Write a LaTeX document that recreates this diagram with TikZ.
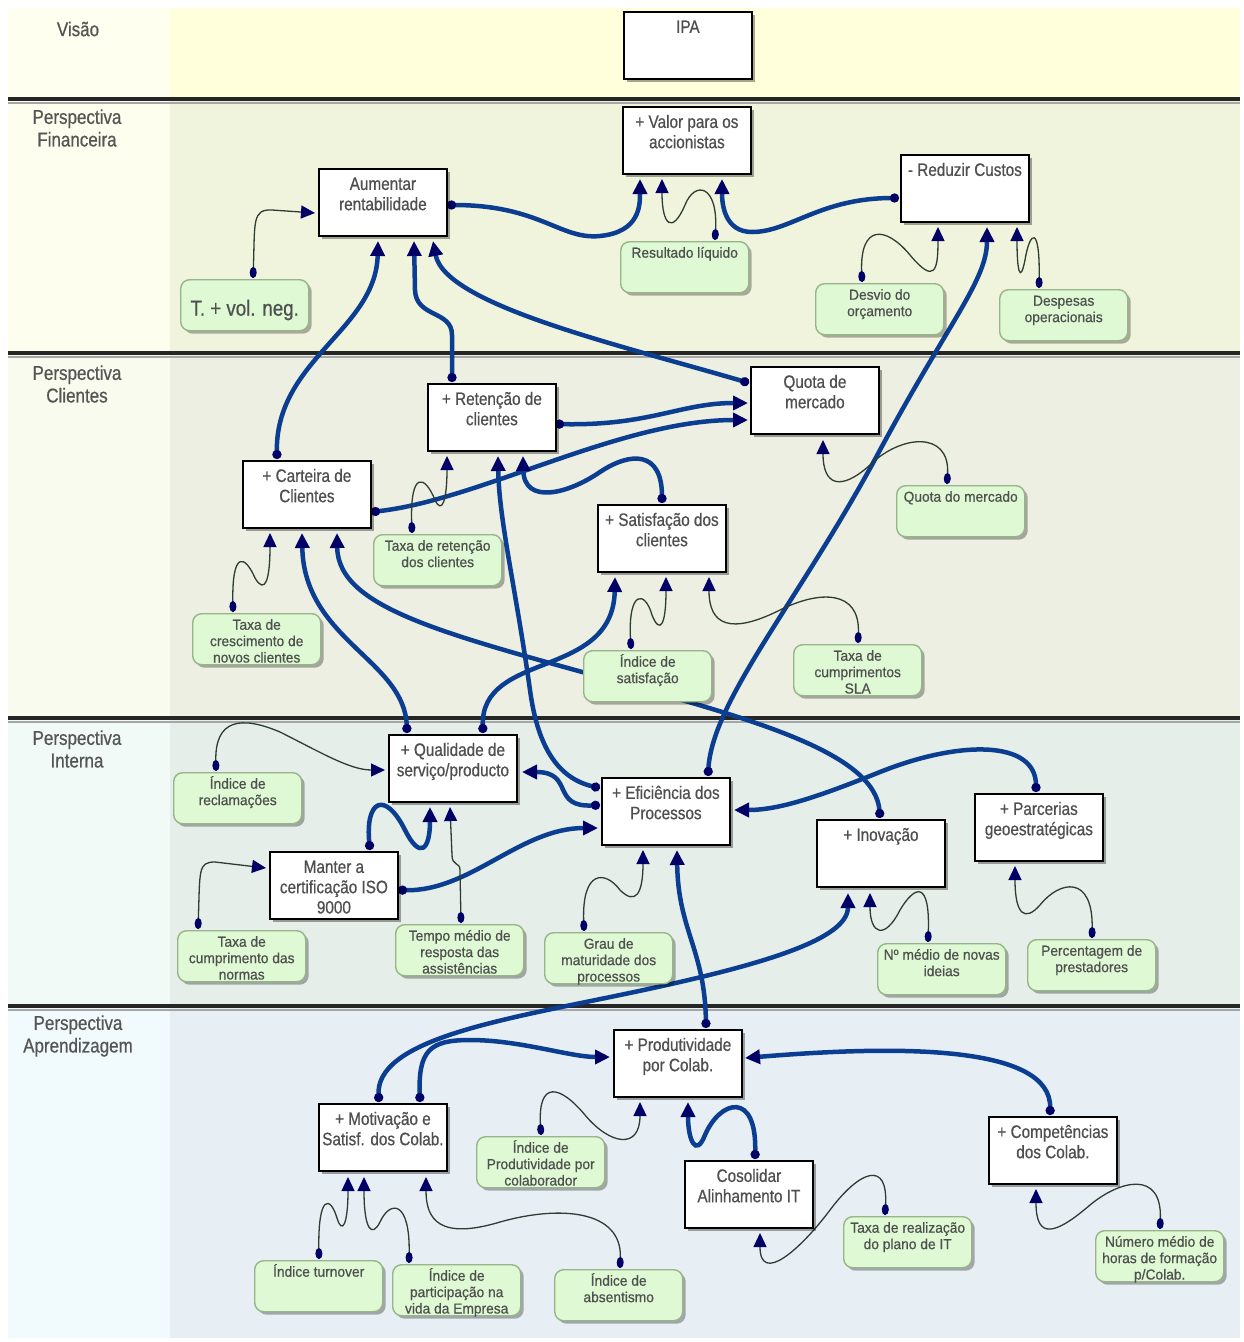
\documentclass[tikz,border=0pt]{standalone}
\usepackage{fontspec}
\setmainfont{Liberation Sans}[FakeStretch=0.85,FakeBold=0.6]
\newfontfamily\boxfont{Liberation Sans}[FakeStretch=0.85,FakeBold=0.6]
\newfontfamily\indfont{Liberation Sans}[FakeStretch=0.95,FakeBold=0.6]
\newfontfamily\labfont{Liberation Sans}[FakeStretch=0.85,FakeBold=0.6]
\usetikzlibrary{arrows.meta,calc,shadows}
\definecolor{tipNavy}{HTML}{000066}
\definecolor{lineBlue}{HTML}{0B3D91}
\definecolor{thinCol}{HTML}{2E3D33}
\definecolor{textGray}{HTML}{4F4F4F}
\definecolor{labGray}{HTML}{555555}
\definecolor{greenFill}{HTML}{DEF9D3}
\definecolor{greenBorder}{HTML}{98B48A}
\definecolor{visL}{HTML}{FFFFEF}
\definecolor{visM}{HTML}{FFFFDC}
\definecolor{finL}{HTML}{FDFEEE}
\definecolor{finM}{HTML}{F1F4DC}
\definecolor{cliL}{HTML}{F8FBEE}
\definecolor{cliM}{HTML}{ECEFE1}
\definecolor{intL}{HTML}{F1FAF6}
\definecolor{intM}{HTML}{E5EEE8}
\definecolor{aprL}{HTML}{F1FAFD}
\definecolor{aprM}{HTML}{E7EFF5}
\pgfdeclarelayer{bands}
\pgfdeclarelayer{edges}
\pgfsetlayers{bands,edges,main}
\newcommand\boxtxt[1]{\parbox[t][63pt][t]{124pt}{\centering\boxfont\fontsize{18pt}{20.3pt}\selectfont\rule{0pt}{19pt}#1\par}}
\newcommand\indtxt[1]{\parbox[t][47pt][t]{124pt}{\centering\indfont\fontsize{14.5pt}{16.4pt}\selectfont\rule{0pt}{14pt}#1\par}}
\begin{document}
\begin{tikzpicture}[x=1pt,y=-1pt,
  kbox/.style={draw=black, line width=1.8pt, fill=white, inner sep=2pt,
    minimum width=128pt, minimum height=67pt, anchor=north west, text=textGray,
    drop shadow={shadow xshift=3pt,shadow yshift=-3pt,fill=black,opacity=0.35}},
  ibox/.style={draw=greenBorder, line width=1.4pt, fill=greenFill, rounded corners=9pt,
    inner sep=2pt, minimum width=128pt, minimum height=51pt, anchor=north west, text=textGray,
    drop shadow={shadow xshift=3pt,shadow yshift=-3pt,fill=black,opacity=0.3}},
  lab/.style={text=labGray, font=\labfont\fontsize{20pt}{22.6pt}\selectfont, align=center, inner sep=0pt},
  bconn/.style={line width=4.5pt, draw=lineBlue, line cap=round,
    {Circle[length=9pt,width=9pt,color=tipNavy]}-{Triangle[length=15pt,width=14pt,color=tipNavy]}},
  tconn/.style={line width=1.3pt, draw=thinCol,
    {Ellipse[length=11pt,width=7pt,color=tipNavy]}-{Triangle[length=14pt,width=13pt,color=tipNavy]}},
  sepline/.style={line width=3.5pt, draw=black!85},
  sepshadow/.style={line width=2pt, draw=black!35}
]
\useasboundingbox (0,0) rectangle (1243,1342);
\begin{pgfonlayer}{bands}
\fill[white] (0,0) rectangle (1243,1342);
\fill[visM] (8,8) rectangle (1240,98);
\fill[visL] (8,8) rectangle (170,98);
\fill[finM] (8,101) rectangle (1240,352);
\fill[finL] (8,101) rectangle (170,352);
\fill[cliM] (8,355) rectangle (1240,717);
\fill[cliL] (8,355) rectangle (170,717);
\fill[intM] (8,720) rectangle (1240,1005);
\fill[intL] (8,720) rectangle (170,1005);
\fill[aprM] (8,1008) rectangle (1240,1338);
\fill[aprL] (8,1008) rectangle (170,1338);
\draw[sepshadow] (8,102.5) -- (1240,102.5);
\draw[sepline] (8,99) -- (1240,99);
\draw[sepshadow] (8,356.5) -- (1240,356.5);
\draw[sepline] (8,353) -- (1240,353);
\draw[sepshadow] (8,721.5) -- (1240,721.5);
\draw[sepline] (8,718) -- (1240,718);
\draw[sepshadow] (8,1009.5) -- (1240,1009.5);
\draw[sepline] (8,1006) -- (1240,1006);
\end{pgfonlayer}

% perspective labels
\node[lab] (lv) at (78,29) {Visão};
\node[lab] (lf) at (77,128) {Perspectiva\\Financeira};
\node[lab] (lc) at (77,384) {Perspectiva\\Clientes};
\node[lab] (li) at (77,749) {Perspectiva\\Interna};
\node[lab] (la) at (78,1036) {Perspectiva\\Aprendizagem};

% objective boxes
\node[kbox] (ipa) at (623,11) {\boxtxt{IPA}};
\node[kbox] (val) at (622,106) {\boxtxt{+ Valor para os\\accionistas}};
\node[kbox] (aum) at (318,168) {\boxtxt{Aumentar\\rentabilidade}};
\node[kbox] (red) at (900,154) {\boxtxt{- Reduzir Custos}};
\node[kbox] (quo) at (750,366) {\boxtxt{Quota de\\mercado}};
\node[kbox] (ret) at (427,383) {\boxtxt{+ Retenção de\\clientes}};
\node[kbox] (car) at (242,460) {\boxtxt{+ Carteira de\\Clientes}};
\node[kbox] (sat) at (597,504) {\boxtxt{+ Satisfação dos\\clientes}};
\node[kbox] (qua) at (388,734) {\boxtxt{+ Qualidade de\\serviço/producto}};
\node[kbox] (efi) at (601,777) {\boxtxt{+ Eficiência dos\\Processos}};
\node[kbox] (ino) at (816,819) {\boxtxt{+ Inovação}};
\node[kbox] (par) at (974,793) {\boxtxt{+ Parcerias\\geoestratégicas}};
\node[kbox] (man) at (269,851) {\boxtxt{Manter a\\certificação ISO\\9000}};
\node[kbox] (pro) at (613,1029) {\boxtxt{+ Produtividade\\por Colab.}};
\node[kbox] (mot) at (318,1103) {\boxtxt{+ Motivação e\\Satisf. dos Colab.}};
\node[kbox] (cos) at (684,1160) {\boxtxt{Cosolidar\\Alinhamento IT}};
\node[kbox] (com) at (988,1116) {\boxtxt{+ Competências\\dos Colab.}};

% indicator boxes
\node[ibox] (tvn) at (180,279) {\parbox[t][47pt][t]{124pt}{\centering\boxfont\fontsize{22pt}{22pt}\selectfont\rule{0pt}{34pt}T. + vol. neg.\par}};
\node[ibox] (res) at (620,241) {\indtxt{Resultado líquido}};
\node[ibox] (des) at (815,283) {\indtxt{Desvio do\\orçamento}};
\node[ibox] (dep) at (999,289) {\indtxt{Despesas\\operacionais}};
\node[ibox] (qdm) at (896,485) {\indtxt{Quota do mercado}};
\node[ibox] (txr) at (373,534) {\indtxt{Taxa de retenção\\dos clientes}};
\node[ibox] (txc) at (192,613) {\indtxt{Taxa de\\crescimento de\\novos clientes}};
\node[ibox] (ids) at (583,650) {\indtxt{Índice de\\satisfação}};
\node[ibox] (sla) at (793,644) {\indtxt{Taxa de\\cumprimentos\\SLA}};
\node[ibox] (rec) at (173,772) {\indtxt{Índice de\\reclamações}};
\node[ibox] (tcn) at (177,930) {\indtxt{Taxa de\\cumprimento das\\normas}};
\node[ibox] (tmr) at (395,924) {\indtxt{Tempo médio de\\resposta das\\assistências}};
\node[ibox] (gmp) at (544,932) {\indtxt{Grau de\\maturidade dos\\processos}};
\node[ibox] (nmi) at (877,943) {\indtxt{Nº médio de novas\\ideias}};
\node[ibox] (pdp) at (1027,939) {\indtxt{Percentagem de\\prestadores}};
\node[ibox] (ipc) at (476,1136) {\indtxt{Índice de\\Produtividade por\\colaborador}};
\node[ibox] (itu) at (254,1260) {\indtxt{Índice turnover}};
\node[ibox] (ipv) at (392,1264) {\indtxt{Índice de\\participação na\\vida da Empresa}};
\node[ibox] (iab) at (554,1269) {\indtxt{Índice de\\absentismo}};
\node[ibox] (trp) at (843,1216) {\indtxt{Taxa de realização\\do plano de IT}};
\node[ibox] (nmh) at (1095,1230) {\indtxt{Número médio de\\horas de formação\\p/Colab.}};

\begin{pgfonlayer}{edges}
% thick connectors
\draw[bconn] ($(aum.north west)+(129,37)$) .. controls (540,205) and (560,240) .. (600,236) .. controls (640,232) and (640,205) .. ($(val.north west)+(18,73)$);
\draw[bconn] ($(red.north west)+(-1,44)$) .. controls (820,198) and (790,232) .. (752,232) .. controls (725,232) and (722,205) .. ($(val.north west)+(100,73)$);
\draw[bconn] ($(car.north west)+(35,-1)$) .. controls (275,360) and (376,330) .. ($(aum.north west)+(60,73)$);
\draw[bconn] ($(ret.north west)+(25,-1)$) -- (452,335) .. controls (452,310) and (416,318) .. (415,290) -- ($(aum.north west)+(96,73)$);
\draw[bconn] ($(quo.north west)+(-1,17)$) .. controls (620,345) and (445,305) .. ($(aum.north west)+(115,73)$);
\draw[bconn] ($(ret.north west)+(128,41)$) .. controls (650,426) and (680,403) .. ($(quo.north west)+(-2,37)$);
\draw[bconn] ($(car.north west)+(129,52)$) .. controls (480,500) and (620,420) .. ($(quo.north west)+(-2,54)$);
\draw[bconn] ($(sat.north west)+(65,-1)$) .. controls (662,450) and (630,452) .. (600,472) .. controls (568,494) and (524,505) .. ($(ret.north west)+(96,73)$);
\draw[bconn] ($(ino.north west)+(64,-1)$) .. controls (876,755) and (760,722) .. (640,688) .. controls (450,635) and (338,610) .. ($(car.north west)+(95,73)$);
\draw[bconn] ($(qua.north west)+(19,-1)$) .. controls (405,660) and (304,640) .. ($(car.north west)+(60,73)$);
\draw[bconn] ($(qua.north west)+(95,-1)$) .. controls (480,650) and (613,680) .. ($(sat.north west)+(18,73)$);
\draw[bconn] ($(efi.north west)+(107,-1)$) .. controls (712,700) and (800,600) .. (880,450) .. controls (950,320) and (987,280) .. ($(red.north west)+(87,73)$);
\draw[bconn] ($(efi.north west)+(-1,11)$) .. controls (555,778) and (537,742) .. (530,690) .. controls (516,590) and (499,520) .. ($(ret.north west)+(71,73)$);
\draw[bconn] ($(efi.north west)+(-1,28)$) .. controls (550,808) and (575,772) .. ($(qua.north west)+(134,38)$);
\draw[bconn] ($(man.north west)+(129,39)$) .. controls (470,892) and (520,828) .. ($(efi.north west)+(-3,51)$);
\draw[bconn] ($(man.north west)+(101,-1)$) .. controls (365,800) and (385,790) .. (405,830) .. controls (420,860) and (430,850) .. ($(qua.north west)+(42,73)$);
\draw[bconn] ($(par.north west)+(62,-1)$) .. controls (1036,740) and (960,740) .. (880,772) .. controls (820,796) and (780,810) .. ($(efi.north west)+(133,33)$);
\draw[bconn] ($(pro.north west)+(93,-1)$) .. controls (705,950) and (678,930) .. ($(efi.north west)+(76,73)$);
\draw[bconn] ($(mot.north west)+(61,-1)$) .. controls (375,1040) and (500,1020) .. (620,995) .. controls (760,966) and (848,940) .. ($(ino.north west)+(32,74)$);
\draw[bconn] ($(mot.north west)+(102,-1)$) .. controls (418,1050) and (430,1040) .. (470,1040) .. controls (520,1040) and (570,1057) .. ($(pro.north west)+(-3,28)$);
\draw[bconn] ($(com.north west)+(62,-1)$) .. controls (1052,1045) and (900,1045) .. ($(pro.north west)+(132,29)$);
\draw[bconn] ($(cos.north west)+(71,-1)$) .. controls (757,1090) and (720,1100) .. (705,1135) .. controls (696,1158) and (688,1140) .. ($(pro.north west)+(75,73)$);
% thin connectors
\draw[tconn] ($(tvn.north west)+(73,-1)$) .. controls (255,222) and (252,209) .. (272,210) -- ($(aum.north west)+(-3,45)$);
\draw[tconn] ($(res.north west)+(95,-1)$) .. controls (718,185) and (695,180) .. (685,205) .. controls (672,235) and (662,225) .. ($(val.north west)+(40,73)$);
\draw[tconn] ($(des.north west)+(47,-1)$) .. controls (860,225) and (885,225) .. (910,255) .. controls (935,285) and (938,270) .. ($(red.north west)+(38,73)$);
\draw[tconn] ($(dep.north west)+(40,-1)$) .. controls (1040,225) and (1030,230) .. (1025,260) .. controls (1020,285) and (1017,270) .. ($(red.north west)+(117,73)$);
\draw[tconn] ($(qdm.north west)+(51,-1)$) .. controls (950,430) and (900,435) .. (870,465) .. controls (840,492) and (823,485) .. ($(quo.north west)+(73,74)$);
\draw[tconn] ($(txr.north west)+(39,-1)$) .. controls (410,470) and (425,475) .. (435,500) .. controls (442,515) and (447,500) .. ($(ret.north west)+(20,73)$);
\draw[tconn] ($(txc.north west)+(41,-1)$) .. controls (232,550) and (245,555) .. (255,578) .. controls (265,595) and (270,580) .. ($(car.north west)+(28,73)$);
\draw[tconn] ($(ids.north west)+(48,-1)$) .. controls (628,590) and (645,590) .. (652,615) .. controls (660,635) and (666,625) .. ($(sat.north west)+(69,73)$);
\draw[tconn] ($(sla.north west)+(65,-1)$) .. controls (860,590) and (820,590) .. (780,610) .. controls (730,635) and (709,625) .. ($(sat.north west)+(112,73)$);
\draw[tconn] ($(rec.north west)+(43,-1)$) .. controls (215,720) and (240,715) .. (280,732) .. controls (320,752) and (350,770) .. ($(qua.north west)+(-3,36)$);
\draw[tconn] ($(tcn.north west)+(21,-1)$) .. controls (200,870) and (198,862) .. (215,862) -- ($(man.north west)+(-3,17)$);
\draw[tconn] ($(tmr.north west)+(66,-1)$) -- (460,870) .. controls (460,862) and (452,866) .. (452,855) -- ($(qua.north west)+(62,73)$);
\draw[tconn] ($(gmp.north west)+(40,-1)$) .. controls (582,870) and (605,870) .. (620,890) .. controls (635,905) and (643,895) .. ($(efi.north west)+(42,73)$);
\draw[tconn] ($(nmi.north west)+(51,-1)$) .. controls (930,880) and (915,885) .. (900,910) .. controls (885,940) and (870,935) .. ($(ino.north west)+(54,74)$);
\draw[tconn] ($(pdp.north west)+(65,-1)$) .. controls (1093,875) and (1060,880) .. (1040,905) .. controls (1025,922) and (1015,915) .. ($(par.north west)+(41,73)$);
\draw[tconn] ($(ipc.north west)+(65,-1)$) .. controls (538,1080) and (560,1085) .. (585,1115) .. controls (610,1145) and (640,1150) .. ($(pro.north west)+(27,73)$);
\draw[tconn] ($(itu.north west)+(65,-1)$) .. controls (318,1195) and (330,1195) .. (337,1218) .. controls (342,1235) and (348,1225) .. ($(mot.north west)+(30,74)$);
\draw[tconn] ($(ipv.north west)+(17,-1)$) .. controls (410,1200) and (390,1200) .. (380,1222) .. controls (372,1238) and (364,1230) .. ($(mot.north west)+(46,74)$);
\draw[tconn] ($(iab.north west)+(66,-1)$) .. controls (622,1210) and (560,1205) .. (500,1222) .. controls (440,1240) and (426,1220) .. ($(mot.north west)+(108,74)$);
\draw[tconn] ($(trp.north west)+(42,-1)$) .. controls (888,1160) and (860,1170) .. (830,1210) .. controls (800,1250) and (760,1285) .. ($(cos.north west)+(76,73)$);
\draw[tconn] ($(nmh.north west)+(65,-1)$) .. controls (1162,1170) and (1120,1180) .. (1090,1205) .. controls (1055,1235) and (1036,1240) .. ($(com.north west)+(48,73)$);
\end{pgfonlayer}
\end{tikzpicture}
\end{document}
